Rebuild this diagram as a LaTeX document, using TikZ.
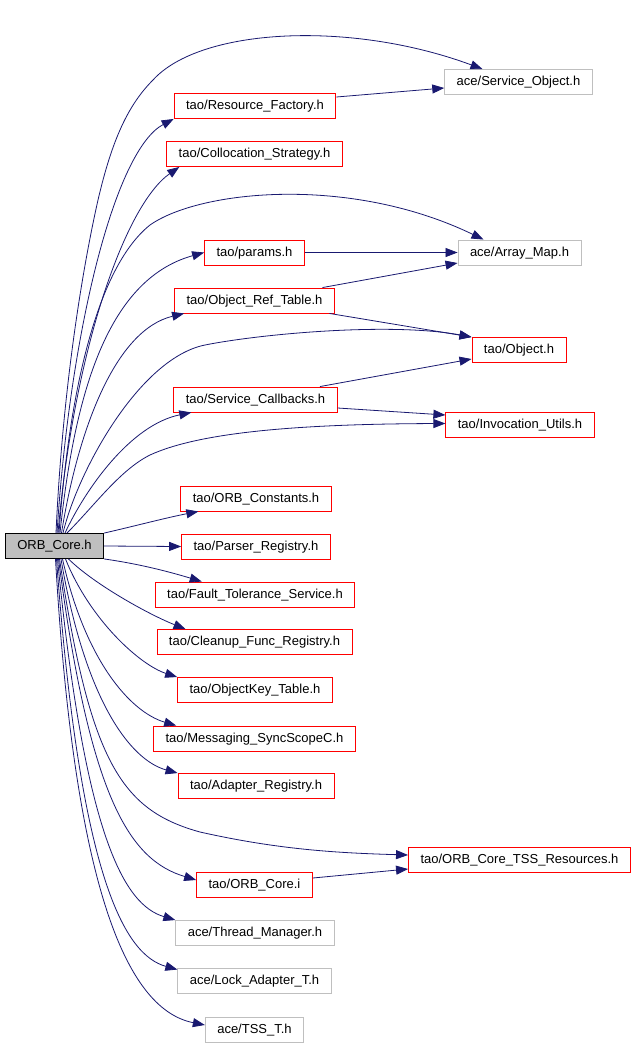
\documentclass[tikz,border=0pt]{standalone}
\usepackage{fontspec}
\setmainfont{Liberation Sans}
\usetikzlibrary{arrows.meta}
\definecolor{edgeblue}{RGB}{25,25,112}
\definecolor{boxgray}{RGB}{191,191,191}
\begin{document}
\begin{tikzpicture}[x=1pt,y=-1pt,
  box/.style={draw, line width=0.9pt, font=\fontsize{13}{15}\selectfont, inner xsep=12pt, inner ysep=0pt, minimum height=25pt, text height=9.5pt, text depth=2.5pt},
  redbox/.style={box, draw=red},
  acebox/.style={box, draw=boxgray},
  corebox/.style={box, draw=black, fill=boxgray},
  edge/.style={draw=edgeblue, line width=0.8pt, -{Triangle[length=12pt,width=9pt]}, fill=none}]
\fill[white] (0,0) rectangle (637,1045);
\useasboundingbox (0,0) rectangle (637,1045);

\node[corebox] (core) at (54.5,546) {ORB\_Core.h};
\node[acebox] (so) at (518.5,82) {ace/Service\_Object.h};
\node[redbox] (rf) at (255,106) {tao/Resource\_Factory.h};
\node[redbox] (cs) at (254.5,154) {tao/Collocation\_Strategy.h};
\node[redbox] (pa) at (254.5,252.5) {tao/params.h};
\node[acebox] (am) at (519.5,252.5) {ace/Array\_Map.h};
\node[redbox] (ort) at (254.5,300.5) {tao/Object\_Ref\_Table.h};
\node[redbox] (ob) at (519,350) {tao/Object.h};
\node[redbox] (sc) at (255.5,399.5) {tao/Service\_Callbacks.h};
\node[redbox] (iu) at (520,424.5) {tao/Invocation\_Utils.h};
\node[redbox] (oc) at (256,498.5) {tao/ORB\_Constants.h};
\node[redbox] (pr) at (256,546.5) {tao/Parser\_Registry.h};
\node[redbox] (ft) at (255,594.5) {tao/Fault\_Tolerance\_Service.h};
\node[redbox] (cf) at (254.5,642) {tao/Cleanup\_Func\_Registry.h};
\node[redbox] (ok) at (255,690) {tao/ObjectKey\_Table.h};
\node[redbox] (ms) at (254.5,738.5) {tao/Messaging\_SyncScopeC.h};
\node[redbox] (ar) at (256,786) {tao/Adapter\_Registry.h};
\node[redbox] (tss) at (519.5,859.5) {tao/ORB\_Core\_TSS\_Resources.h};
\node[redbox] (oci) at (254.5,884.5) {tao/ORB\_Core.i};
\node[acebox] (tm) at (255,933) {ace/Thread\_Manager.h};
\node[acebox] (la) at (254.5,980.5) {ace/Lock\_Adapter\_T.h};
\node[acebox] (tt) at (254.5,1029.5) {ace/TSS\_T.h};

% upper fan
\draw[edge] ([xshift=1.5pt]core.north) .. controls (62,400) and (80,280) .. (98,200)
   .. controls (112,140) and (128,105) .. (153,80)
   .. controls (200,28) and (350,20) .. ([xshift=-36pt]so.north);
\draw[edge] ([xshift=2.5pt]core.north) .. controls (70,330) and (115,150) .. (rf.south west);
\draw[edge] ([xshift=3.5pt]core.north) .. controls (74,350) and (125,205) .. ([xshift=13pt]cs.south west);
\draw[edge] ([xshift=4.5pt]core.north) .. controls (70,380) and (100,265) .. (150,225)
   .. controls (200,190) and (350,175) .. ([xshift=-36pt]am.north);
\draw[edge] ([xshift=5.5pt]core.north) .. controls (74,400) and (105,280) .. (pa.west);
\draw[edge] ([xshift=7pt]core.north) .. controls (78,430) and (115,330) .. ([xshift=10pt]ort.south west);
\draw[edge] ([xshift=8.5pt]core.north) .. controls (78,470) and (140,358) .. (205,345)
   .. controls (260,334) and (390,322) .. (ob.north west);
\draw[edge] ([xshift=10.5pt]core.north) .. controls (85,490) and (130,425) .. ([xshift=18pt]sc.south west);
\draw[edge] ([xshift=12.5pt]core.north) .. controls (95,505) and (120,470) .. (150,455)
   .. controls (200,432) and (300,424) .. ([yshift=1pt]iu.west);
\draw[edge] (core.north east) .. controls (135,526) and (165,518) .. ([xshift=18pt]oc.south west);
\draw[edge] (core.east) -- (pr.west);
% lower fan
\draw[edge] (core.south east) .. controls (140,564) and (170,572) .. ([xshift=47pt]ft.north west);
\draw[edge] ([xshift=14pt]core.south) .. controls (95,585) and (150,615) .. ([xshift=29pt]cf.north west);
\draw[edge] ([xshift=11pt]core.south) .. controls (90,620) and (140,665) .. (ok.north west);
\draw[edge] ([xshift=8pt]core.south) .. controls (85,660) and (130,712) .. ([xshift=23pt]ms.north west);
\draw[edge] ([xshift=6.5pt]core.south) .. controls (85,700) and (130,760) .. (ar.north west);
\draw[edge] ([xshift=5pt]core.south) .. controls (90,760) and (120,810) .. (200,832)
   .. controls (280,850) and (340,853) .. ([yshift=4.5pt]tss.west);
\draw[edge] ([xshift=4pt]core.south) .. controls (90,800) and (130,860) .. ([yshift=4.5pt]oci.west);
\draw[edge] ([xshift=3pt]core.south) .. controls (85,840) and (125,905) .. (tm.north west);
\draw[edge] ([xshift=2pt]core.south) .. controls (80,880) and (125,955) .. ([yshift=-2pt]la.north west);
\draw[edge] ([xshift=1pt]core.south) .. controls (75,900) and (130,1010) .. ([yshift=4.5pt]tt.west);

% side edges
\draw[edge] ([yshift=9pt]rf.east) -- ([yshift=-6pt]so.west);
\draw[edge] (pa.east) -- (am.west);
\draw[edge] ([xshift=68pt]ort.north) -- ([yshift=-10.5pt]am.west);
\draw[edge] ([xshift=75pt]ort.south) -- (ob.north west);
\draw[edge] ([xshift=64.5pt]sc.north) -- ([yshift=-9pt]ob.west);
\draw[edge] ([yshift=-8.5pt]sc.east) -- ([yshift=9.5pt]iu.west);
\draw[edge] ([yshift=6.5pt]oci.east) -- ([yshift=-9.5pt]tss.west);
\end{tikzpicture}
\end{document}
